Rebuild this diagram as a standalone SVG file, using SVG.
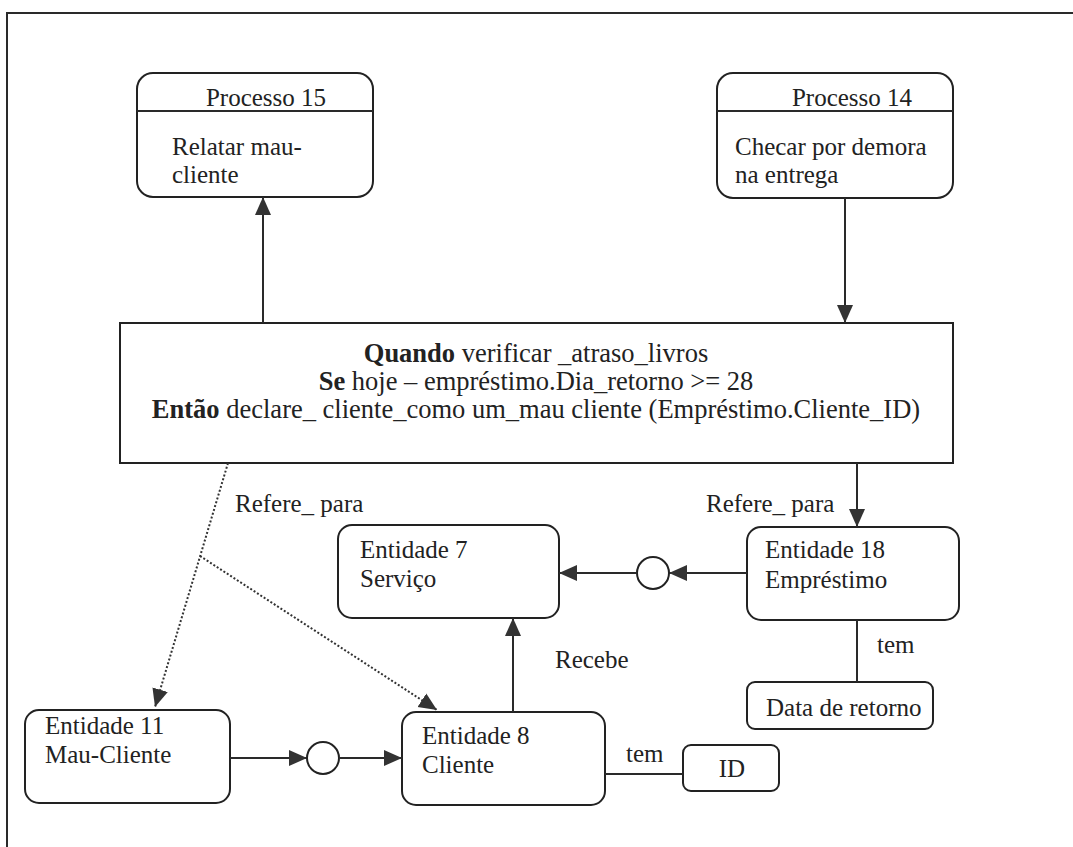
<svg xmlns="http://www.w3.org/2000/svg" width="1073" height="847" viewBox="0 0 1073 847">
  <style>
    .box { fill: #ffffff; stroke: #222; stroke-width: 2; }
    .line { fill: none; stroke: #2a2a2a; stroke-width: 2; }
    .dot { fill: none; stroke: #333; stroke-width: 2; stroke-dasharray: 2 2; }
    text { font-family: 'Liberation Serif', Tinos, 'Times New Roman', 'DejaVu Serif', serif; font-size: 25px; fill: #222; }
    .rule { font-size: 26.5px; }
    .b { font-weight: bold; }
  </style>
  <defs>
    <marker id="arrow" markerUnits="userSpaceOnUse" markerWidth="18" markerHeight="18" viewBox="0 0 18 18" refX="18" refY="9" orient="auto">
      <path d="M0,1 L18,9 L0,17 Z" fill="#333"/>
    </marker>
  </defs>

  <rect width="1073" height="847" fill="#ffffff"/>

  <!-- page frame -->
  <path class="line" d="M7,847 L7,13 L1073,13"/>

  <g id="processo15">
    <rect class="box" x="137" y="73" width="236" height="124" rx="16"/>
    <line class="line" x1="137" y1="111" x2="373" y2="111"/>
    <text x="266" y="106" text-anchor="middle">Processo 15</text>
    <text x="172" y="155">Relatar mau-</text>
    <text x="172" y="183">cliente</text>
  </g>

  <g id="processo14">
    <rect class="box" x="717" y="73" width="236" height="125" rx="16"/>
    <line class="line" x1="717" y1="111" x2="953" y2="111"/>
    <text x="852" y="106" text-anchor="middle">Processo 14</text>
    <text x="735" y="155">Checar por demora</text>
    <text x="735" y="183">na entrega</text>
  </g>

  <g id="regra">
    <rect class="box" x="120" y="323" width="833" height="140"/>
    <text class="rule" x="536" y="362" text-anchor="middle"><tspan class="b">Quando</tspan> verificar _atraso_livros</text>
    <text class="rule" x="536" y="390" text-anchor="middle"><tspan class="b">Se</tspan> hoje – empréstimo.Dia_retorno &gt;= 28</text>
    <text class="rule" x="536" y="418" text-anchor="middle"><tspan class="b">Então</tspan> declare_ cliente_como um_mau cliente (Empréstimo.Cliente_ID)</text>
  </g>

  <g id="entidade7">
    <rect class="box" x="338" y="525" width="221" height="93" rx="14"/>
    <text x="360" y="558">Entidade 7</text>
    <text x="360" y="587">Serviço</text>
  </g>

  <g id="entidade18">
    <rect class="box" x="747" y="527" width="212" height="93" rx="14"/>
    <text x="765" y="558">Entidade 18</text>
    <text x="765" y="588">Empréstimo</text>
  </g>

  <g id="data-retorno">
    <rect class="box" x="747" y="682" width="186" height="47" rx="8"/>
    <text x="766" y="716">Data de retorno</text>
  </g>

  <g id="entidade11">
    <rect class="box" x="25" y="710" width="205" height="93" rx="14"/>
    <text x="45" y="734">Entidade 11</text>
    <text x="45" y="763">Mau-Cliente</text>
  </g>

  <g id="entidade8">
    <rect class="box" x="402" y="712" width="203" height="93" rx="14"/>
    <text x="422" y="744">Entidade 8</text>
    <text x="422" y="773">Cliente</text>
  </g>

  <g id="id-atributo">
    <rect class="box" x="683" y="745" width="96" height="46" rx="8"/>
    <text x="732" y="777" text-anchor="middle">ID</text>
  </g>

  <g id="conectores">
    <line class="line" x1="263" y1="323" x2="263" y2="197" marker-end="url(#arrow)"/>
    <line class="line" x1="845" y1="198" x2="845" y2="323" marker-end="url(#arrow)"/>
    <line class="line" x1="857" y1="463" x2="857" y2="527" marker-end="url(#arrow)"/>
    <line class="line" x1="747" y1="573" x2="669" y2="573" marker-end="url(#arrow)"/>
    <circle class="box" cx="653" cy="573" r="16"/>
    <line class="line" x1="637" y1="573" x2="559" y2="573" marker-end="url(#arrow)"/>
    <line class="line" x1="513" y1="712" x2="513" y2="618" marker-end="url(#arrow)"/>
    <line class="line" x1="230" y1="758" x2="307" y2="758" marker-end="url(#arrow)"/>
    <circle class="box" cx="323" cy="758" r="16"/>
    <line class="line" x1="339" y1="758" x2="402" y2="758" marker-end="url(#arrow)"/>
    <line class="dot" x1="228" y1="463" x2="155" y2="707" marker-end="url(#arrow)"/>
    <line class="dot" x1="200" y1="556" x2="437" y2="710" marker-end="url(#arrow)"/>
    <line class="line" x1="857" y1="620" x2="857" y2="682"/>
    <line class="line" x1="605" y1="774" x2="683" y2="774"/>
    <text x="235" y="512">Refere_ para</text>
    <text x="706" y="512">Refere_ para</text>
    <text x="555" y="668">Recebe</text>
    <text x="877" y="653">tem</text>
    <text x="626" y="762">tem</text>
  </g>
</svg>
